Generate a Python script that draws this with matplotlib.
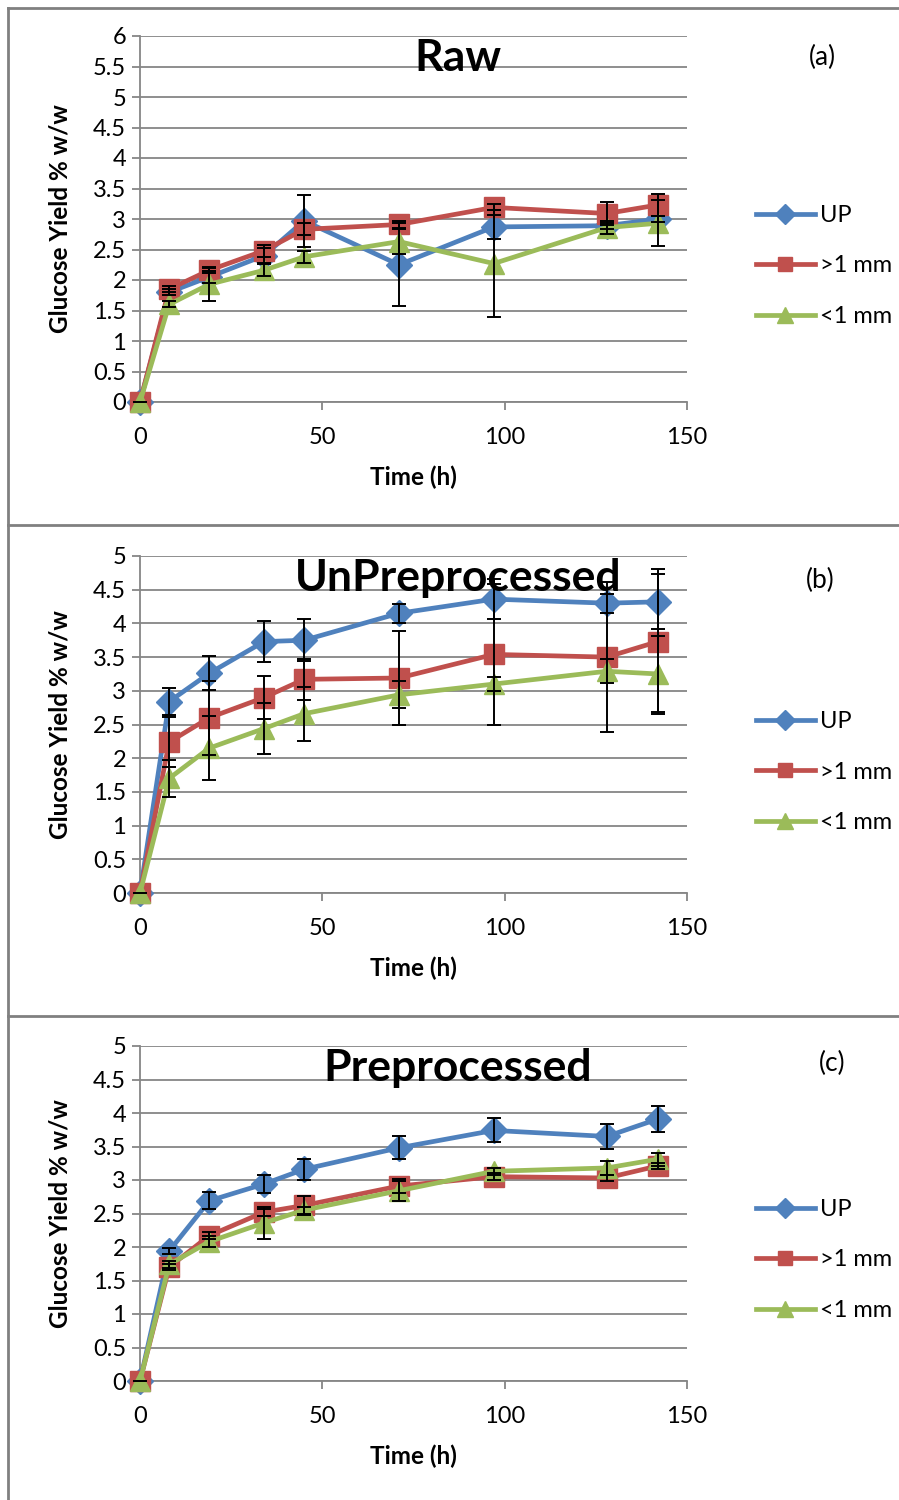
import matplotlib
matplotlib.use("Agg")
import matplotlib.pyplot as plt
from matplotlib.lines import Line2D

plt.rcParams['font.family'] = ['Lato', 'DejaVu Sans']

# sampling times (h)
times = [0, 8, 19, 34, 45, 71, 97, 128, 142]
labels = ["UP", ">1 mm", "<1 mm"]

# (a) Raw
up_a = [0, 1.80, 2.05, 2.40, 2.97, 2.25, 2.87, 2.89, 3.00]
big_a = [0, 1.85, 2.16, 2.48, 2.83, 2.91, 3.19, 3.09, 3.23]
small_a = [0, 1.60, 1.93, 2.16, 2.38, 2.63, 2.27, 2.86, 2.93]
up_a_err = [0, 0.05, 0.10, 0.12, 0.43, 0.68, 0.20, 0.05, 0.05]
big_a_err = [0, 0.05, 0.05, 0.10, 0.10, 0.05, 0.05, 0.19, 0.18]
small_a_err = [0, 0.05, 0.27, 0.10, 0.10, 0.20, 0.88, 0.10, 0.38]

# (b) UnPreprocessed
up_b = [0, 2.84, 3.26, 3.73, 3.75, 4.15, 4.36, 4.30, 4.32]
big_b = [0, 2.24, 2.60, 2.90, 3.17, 3.19, 3.54, 3.50, 3.73]
small_b = [0, 1.70, 2.15, 2.44, 2.66, 2.94, 3.10, 3.29, 3.25]
up_b_err = [0, 0.20, 0.25, 0.30, 0.31, 0.14, 0.30, 0.14, 0.41]
big_b_err = [0, 0.37, 0.55, 0.32, 0.30, 0.69, 1.04, 1.11, 1.07]
small_b_err = [0, 0.27, 0.47, 0.38, 0.40, 0.20, 0.10, 0.18, 0.57]

# (c) Preprocessed
up_c = [0, 1.94, 2.69, 2.94, 3.16, 3.48, 3.74, 3.65, 3.91]
big_c = [0, 1.70, 2.17, 2.52, 2.62, 2.91, 3.05, 3.03, 3.21]
small_c = [0, 1.74, 2.08, 2.36, 2.55, 2.84, 3.13, 3.18, 3.31]
up_c_err = [0, 0.05, 0.13, 0.14, 0.16, 0.17, 0.18, 0.18, 0.19]
big_c_err = [0, 0.05, 0.05, 0.05, 0.14, 0.10, 0.05, 0.05, 0.05]
small_c_err = [0, 0.05, 0.08, 0.24, 0.05, 0.15, 0.05, 0.10, 0.10]

colors = ["#4F81BD", "#C0504D", "#9BBB59"]
markers = ["D", "s", "^"]
msizes = [13, 14, 15]
grid_c = "#868686"

fig = plt.figure(figsize=(8.99, 15), dpi=100)
W, H = 899.0, 1500.0

def fx(px):
    return px / W

def fy(py):
    return 1 - py / H

# title, tag, data, errors, ymax, axes top/bottom px, tag x/y px, legend centre y px
panels = [
    ("Raw", "(a)", [up_a, big_a, small_a], [up_a_err, big_a_err, small_a_err], 6, 36, 402, 822, 57, 266),
    ("UnPreprocessed", "(b)", [up_b, big_b, small_b], [up_b_err, big_b_err, small_b_err], 5, 556, 893, 820, 580, 772),
    ("Preprocessed", "(c)", [up_c, big_c, small_c], [up_c_err, big_c_err, small_c_err], 5, 1046, 1381, 832, 1063, 1260),
]

for title, tag, series, errs, ymax, top, bot, tagx, tagy, legy in panels:
    hpx = bot - top
    ax = fig.add_axes([fx(140), fy(bot), fx(687) - fx(140), hpx / H])
    for i in range(3):
        ax.plot(times, series[i], color=colors[i], lw=3.4, marker=markers[i],
                ms=msizes[i], mec=colors[i], mfc=colors[i], label=labels[i],
                zorder=3 + i, clip_on=False)
    for i in range(3):
        ax.errorbar(times, series[i], yerr=errs[i], fmt="none", ecolor="black",
                    elinewidth=1.4, capsize=5, capthick=1.4, zorder=7, clip_on=False)
    ax.set_xlim(0, 150)
    ax.set_ylim(0, ymax)
    ax.set_xticks([0, 50, 100, 150])
    yt = [k * 0.5 for k in range(int(ymax * 2) + 1)]
    ax.set_yticks(yt)
    ax.set_yticklabels(["%g" % v for v in yt])
    ax.yaxis.grid(True, color=grid_c, lw=1.3)
    ax.set_axisbelow(True)
    for s in ["top", "right"]:
        ax.spines[s].set_visible(False)
    ax.spines["left"].set_color(grid_c)
    ax.spines["bottom"].set_color(grid_c)
    ax.spines["left"].set_linewidth(1.3)
    ax.spines["bottom"].set_linewidth(1.3)
    ax.tick_params(axis="both", colors=grid_c, labelcolor="black", labelsize=17,
                   length=6, width=1.3)
    ax.tick_params(axis="x", pad=12)
    ax.tick_params(axis="y", pad=4)
    ax.set_xlabel("Time (h)", fontsize=17.5, fontweight="bold")
    ax.set_ylabel("Glucose Yield % w/w", fontsize=17.5, fontweight="bold")
    ax.xaxis.set_label_coords(0.5, -75.0 / hpx, transform=ax.transAxes)
    ax.yaxis.set_label_coords(-80.0 / 547, 0.5, transform=ax.transAxes)
    ax.xaxis.label.set_va("center")
    ax.yaxis.label.set_va("center")
    fig.text(fx(458), fy(top + 22), title, ha="center", va="center",
             fontsize=32, fontweight="bold", zorder=10)
    fig.text(fx(tagx), fy(tagy), tag, ha="center", va="center", fontsize=19)
    ax.legend(loc="center left", bbox_to_anchor=(fx(744), fy(legy)),
              bbox_transform=fig.transFigure, frameon=False, fontsize=17,
              handlelength=2.5, labelspacing=1.25, handletextpad=0.2,
              markerscale=0.75, borderpad=0)

# outer panel frames
fc = "#808080"
for py in [8, 525, 1016]:
    fig.add_artist(Line2D([fx(8), 1], [fy(py), fy(py)], color=fc, lw=2))
fig.add_artist(Line2D([fx(8), fx(8)], [fy(8), 0], color=fc, lw=2))

fig.savefig("out.png", dpi=100)
